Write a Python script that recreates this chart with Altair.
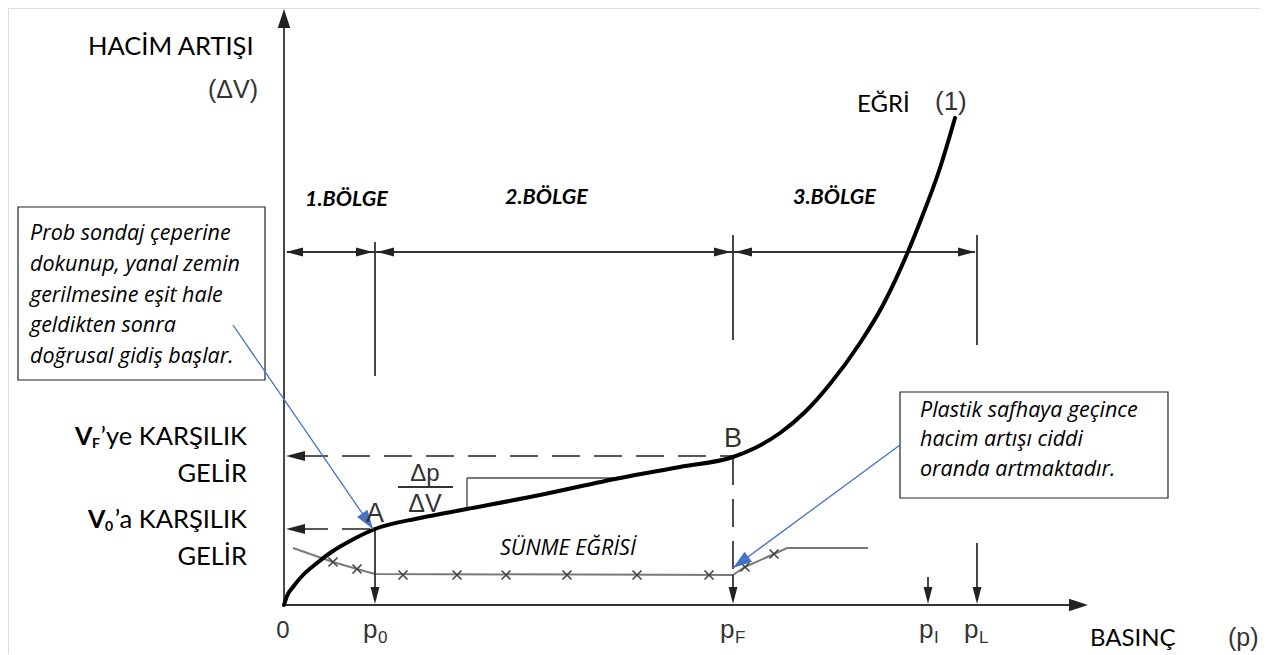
import altair as alt
import pandas as pd

# ---- diagram data (p = pressure units, v = volume units; origin at axes crossing) ----
curve_p = [1, 4, 10, 20, 34, 50, 67, 92, 137, 184, 257, 337, 397, 450, 472, 497, 522, 547, 577, 600, 624, 637, 657, 672]
curve_v = [0, 9, 18, 30, 42, 54, 64, 76, 87, 96, 110, 127, 138, 148, 157, 172, 193, 221, 262, 300, 351, 383, 437, 487]

creep_p = [10, 50, 74, 92, 450, 462, 491, 504, 585]
creep_v = [57, 43, 36, 31, 30, 38, 51, 57, 57]

cross_p = [50, 74, 120, 174, 223, 284, 354, 426, 462, 491]
cross_v = [43, 36, 30, 30, 30, 30, 30, 30, 38, 51]

# solid black segments: axes, dimension line, reference verticals, fraction bar
solid_p1 = [1, 0, 4, 92, 450, 694, 92, 450, 645, 694, 115]
solid_v1 = [0, 0, 353, 229, 265, 260, 76, 30, 28, 62, 118]
solid_p2 = [1, 792, 692, 92, 450, 694, 92, 450, 645, 694, 170]
solid_v2 = [581, 0, 353, 363, 370, 370, 5, 5, 5, 5, 118]

# dashed segments
dash_p1 = [17, 17, 450]
dash_v1 = [149, 76, 148]
dash_p2 = [450, 87, 450]
dash_v2 = [149, 76, 30]

# slope step (gray)
step_p1 = [184, 184]
step_v1 = [96, 127]
step_p2 = [184, 337]
step_v2 = [127, 127]

# blue callout lines
blue_p1 = [-50, 617]
blue_v1 = [280, 160]
blue_p2 = [90, 450]
blue_v2 = [76, 37]

# callout boxes
box_p1 = [-265, 617]
box_p2 = [-18, 885]
box_v1 = [225, 107]
box_v2 = [398, 213]

# arrowheads: tip position, direction (deg clockwise), length, kind, colour
NARROW = "M0,0L-1,-0.26L-1,0.26Z"
WIDE = "M0,0L-1,-0.33L-1,0.33Z"
head_p = [3, 90, 94, 448, 452, 692, 1, 805, 3, 3, 92, 450, 645, 694, 90, 450]
head_v = [353, 353, 353, 353, 353, 353, 596, 0, 149, 76, 1, 1, 1, 1, 76, 37]
head_ang = [180, 0, 180, 0, 180, 0, 270, 0, 180, 180, 90, 90, 90, 90, 55.5, 143.6]
head_len = [17, 17, 17, 17, 17, 17, 19, 19, 19, 19, 17, 17, 17, 17, 19, 19]
head_kind = [NARROW] * 6 + [WIDE, WIDE] + [NARROW] * 6 + [WIDE, WIDE]
head_col = ["#222222"] * 14 + ["#4472C4", "#4472C4"]

# texts
lbl_left_txt = ["HACİM ARTIŞI", "EĞRİ", "BASINÇ"]
lbl_left_p = [-195, 574, 807]
lbl_left_v = [550, 493, -41]
lbl_left_fs = [25.5, 24, 24]

lbl_right_txt = ["’ye KARŞILIK", "GELİR", "’a KARŞILIK", "GELİR"]
lbl_right_p = [-36, -36, -36, -36]
lbl_right_v = [160, 123, 77, 40]

bold_txt = ["V", "F", "V", "0"]
bold_p = [-208, -191, -195, -178]
bold_v = [160, 157, 77, 74]
bold_fs = [25, 14, 25, 14]

sym_txt = ["(ΔV)", "(1)", "p", "0", "p", "F", "p", "I", "p", "L", "(p)"]
sym_p = [-75, 652, 80, 95, 437, 452, 636, 651, 681, 696, 945]
sym_v = [507, 495, -33, -38, -33, -38, -33, -38, -33, -38, -41]
sym_fs = [25, 26, 26, 17, 26, 17, 26, 17, 26, 17, 25]

symc_txt = ["0", "A", "B", "Δp", "ΔV"]
symc_p = [0, 92, 450, 142, 142]
symc_v = [-33, 83, 158, 124, 93]
symc_fs = [24, 27, 27, 24, 25]

ital_txt = ["Prob sondaj çeperine", "dokunup, yanal zemin", "gerilmesine eşit hale",
            "geldikten sonra", "doğrusal  gidiş başlar.",
            "Plastik safhaya geçince", "hacim artışı ciddi", "oranda artmaktadır.",
            "SÜNME EĞRİSİ"]
ital_p = [-253, -253, -253, -253, -253, 637, 637, 637, 217]
ital_v = [365, 334, 303, 273, 242, 188, 159, 129, 50]
ital_fs = [21.5, 21.5, 21.5, 21.5, 21.5, 21.5, 21.5, 21.5, 21.5]

zone_txt = ["1.BÖLGE", "2.BÖLGE", "3.BÖLGE"]
zone_p = [22, 222, 510]
zone_v = [399, 401, 401]

# ---- build chart ----
xs = alt.Scale(domain=[-275, 977], nice=False, zero=False)
ys = alt.Scale(domain=[-49, 597], nice=False, zero=False)


def seg_df(p1, v1, p2, v2):
    return pd.DataFrame({"p1": p1, "v1": v1, "p2": p2, "v2": v2})


def rules(df, **kw):
    return alt.Chart(df).mark_rule(**kw).encode(
        x=alt.X("p1:Q", scale=xs, axis=None), y=alt.Y("v1:Q", scale=ys, axis=None),
        x2="p2:Q", y2="v2:Q")


def texts(txt, p, v, fs, **kw):
    df = pd.DataFrame({"t": txt, "p": p, "v": v, "fs": fs})
    return alt.Chart(df).mark_text(baseline="alphabetic", **kw).encode(
        x=alt.X("p:Q", scale=xs, axis=None), y=alt.Y("v:Q", scale=ys, axis=None),
        text="t:N", size=alt.Size("fs:Q", scale=None))


boxes = alt.Chart(pd.DataFrame({"p1": box_p1, "p2": box_p2, "v1": box_v1, "v2": box_v2})).mark_rect(
    fill="white", stroke="#222222", strokeWidth=1.2).encode(
    x=alt.X("p1:Q", scale=xs, axis=None), x2="p2:Q",
    y=alt.Y("v1:Q", scale=ys, axis=None), y2="v2:Q")

solid = rules(seg_df(solid_p1, solid_v1, solid_p2, solid_v2), color="#333333", strokeWidth=1.8)
dashed = rules(seg_df(dash_p1, dash_v1, dash_p2, dash_v2), color="#222222", strokeWidth=1.6,
               strokeDash=[28, 14])
step = rules(seg_df(step_p1, step_v1, step_p2, step_v2), color="#777777", strokeWidth=1.8)
blue = rules(seg_df(blue_p1, blue_v1, blue_p2, blue_v2), color="#4472C4", strokeWidth=1.3)

curve_df = pd.DataFrame({"p": curve_p, "v": curve_v, "o": range(len(curve_p))})
curve = alt.Chart(curve_df).mark_line(color="black", strokeWidth=4, interpolate="monotone",
                                      strokeCap="round").encode(
    x=alt.X("p:Q", scale=xs, axis=None), y=alt.Y("v:Q", scale=ys, axis=None), order="o:Q")

creep_df = pd.DataFrame({"p": creep_p, "v": creep_v, "o": range(len(creep_p))})
creep = alt.Chart(creep_df).mark_line(color="#7a7a7a", strokeWidth=2).encode(
    x=alt.X("p:Q", scale=xs, axis=None), y=alt.Y("v:Q", scale=ys, axis=None), order="o:Q")

cross = alt.Chart(pd.DataFrame({"p": cross_p, "v": cross_v})).mark_point(
    shape="M-1,-1L1,1M1,-1L-1,1", size=81, filled=False, strokeWidth=1.6,
    color="#444444", opacity=1).encode(
    x=alt.X("p:Q", scale=xs, axis=None), y=alt.Y("v:Q", scale=ys, axis=None))

heads_df = pd.DataFrame({"p": head_p, "v": head_v, "a": head_ang,
                         "s": [4 * L * L for L in head_len], "k": head_kind, "c": head_col})
heads = alt.Chart(heads_df).mark_point(filled=True, opacity=1, strokeWidth=0).encode(
    x=alt.X("p:Q", scale=xs, axis=None), y=alt.Y("v:Q", scale=ys, axis=None),
    angle=alt.Angle("a:Q", scale=None), size=alt.Size("s:Q", scale=None),
    shape=alt.Shape("k:N", scale=None), color=alt.Color("c:N", scale=None))

t_left = texts(lbl_left_txt, lbl_left_p, lbl_left_v, lbl_left_fs, align="left", font="Lato", color="black")
t_right = texts(lbl_right_txt, lbl_right_p, lbl_right_v, [25.5] * 4, align="right", font="Lato", color="black")
t_bold = texts(bold_txt, bold_p, bold_v, bold_fs, align="left", font="Lato", fontWeight="bold", color="black")
t_sym = texts(sym_txt, sym_p, sym_v, sym_fs, align="left", font="Liberation Sans", color="#333333")
t_symc = texts(symc_txt, symc_p, symc_v, symc_fs, align="center", font="Liberation Sans", color="#333333")
t_ital = texts(ital_txt, ital_p, ital_v, ital_fs, align="left", font="Open Sans", fontStyle="italic",
               color="black")
t_zone = texts(zone_txt, zone_p, zone_v, [21.5] * 3, align="left", font="Lato", fontStyle="italic",
               fontWeight="bold", color="black")

chart = alt.layer(
    boxes, step, creep, cross, solid, dashed, curve, blue, heads,
    t_left, t_right, t_bold, t_sym, t_symc, t_ital, t_zone
).properties(
    width=1252, height=646, autosize=alt.AutoSizeParams(type="none"), padding=0
).configure_view(stroke=None).configure(background="white")

chart.save("out.html", embed_options={"renderer": "svg", "actions": False})
